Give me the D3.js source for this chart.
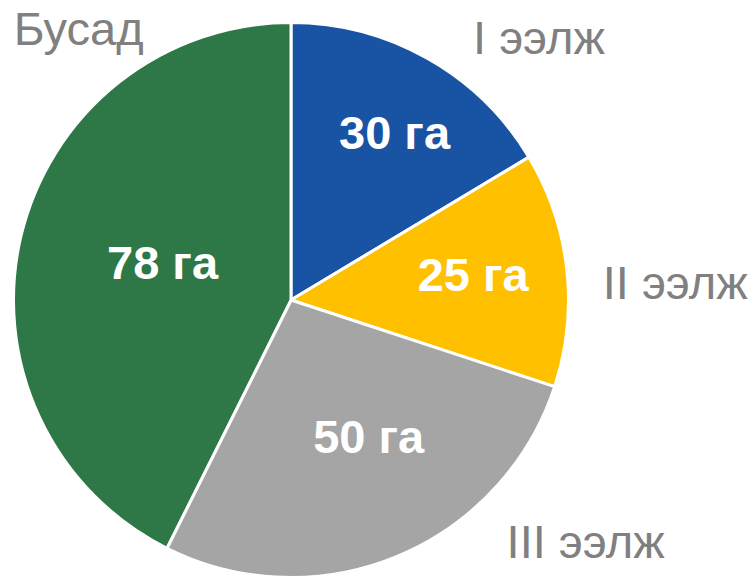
<!DOCTYPE html>
<html>
<head>
<meta charset="utf-8">
<script src="https://cdn.jsdelivr.net/npm/d3@7"></script>
<style>
  body { margin: 0; background: #fff; }
  svg { display: block; font-family: "Liberation Sans", Arial, sans-serif; }
</style>
</head>
<body>
<div id="chart"></div>
<script>
const names = ['I ээлж', 'II ээлж', 'III ээлж', 'Бусад'];
const values = [30, 25, 50, 78];
const unit = 'га';
const colors = ['#1953a3', '#ffc000', '#a5a5a5', '#2e7847'];

const width = 754, height = 579;
const cx = 291, cy = 300, radius = 277.5;

// where excel put the labels (fraction of radius, angle in deg from 12 o'clock)
const innerPos = [[0.71, 31.7], [0.663, 82], [0.565, 150.3], [0.483, 286.6]];
const outerPos = [[1.303, 43.3], [1.386, 87.3], [1.372, 129.3], [1.243, 322]];

const data = names.map((name, i) => ({ name, value: values[i] }));

const svg = d3.select('#chart')
  .append('svg')
  .attr('width', width)
  .attr('height', height)
  .attr('viewBox', [0, 0, width, height]);

const pie = d3.pie()
  .sort(null)
  .value(d => d.value);

const arc = d3.arc()
  .innerRadius(0)
  .outerRadius(radius);

const arcs = pie(data);

const g = svg.append('g')
  .attr('transform', `translate(${cx},${cy})`);

g.selectAll('path')
  .data(arcs)
  .join('path')
  .attr('d', arc)
  .attr('fill', (d, i) => colors[i])
  .attr('stroke', '#fff')
  .attr('stroke-width', 3)
  .attr('stroke-linejoin', 'round');

function polar(r, deg) {
  const a = deg * Math.PI / 180;
  return [r * Math.sin(a), -r * Math.cos(a)];
}

g.selectAll('text.val')
  .data(arcs)
  .join('text')
  .attr('class', 'val')
  .attr('transform', (d, i) => `translate(${polar(radius * innerPos[i][0], innerPos[i][1])})`)
  .attr('text-anchor', 'middle')
  .attr('dy', '0.36em')
  .attr('fill', '#fff')
  .style('font-weight', 'bold')
  .style('font-size', '47px')
  .text(d => `${d.data.value} ${unit}`);

g.selectAll('text.name')
  .data(arcs)
  .join('text')
  .attr('class', 'name')
  .attr('transform', (d, i) => `translate(${polar(radius * outerPos[i][0], outerPos[i][1])})`)
  .attr('text-anchor', 'middle')
  .attr('dy', '0.36em')
  .attr('fill', '#808080')
  .style('font-size', '47px')
  .text(d => d.data.name);
</script>
</body>
</html>
